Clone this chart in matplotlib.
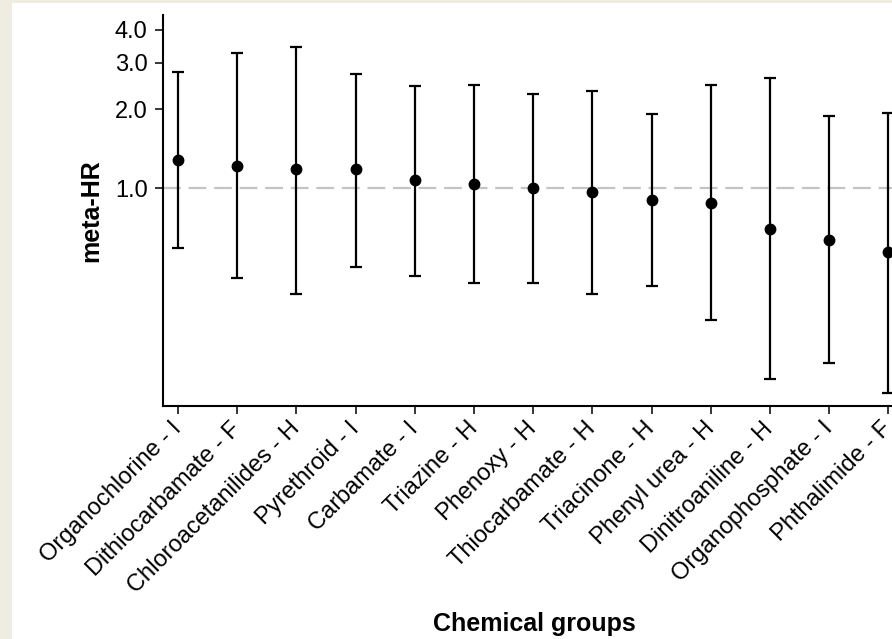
# Forest-style plot of meta-HR by chemical group (log scale)
import numpy as np
import matplotlib
matplotlib.use("Agg")
import matplotlib.pyplot as plt
from matplotlib.patches import Rectangle

plt.rcParams['font.family'] = ['Liberation Sans', 'DejaVu Sans']

groups = ["Organochlorine - I", "Dithiocarbamate - F", "Chloroacetanilides - H",
          "Pyrethroid - I", "Carbamate - I", "Triazine - H", "Phenoxy - H",
          "Thiocarbamate - H", "Triacinone - H", "Phenyl urea - H",
          "Dinitroaniline - H", "Organophosphate - I", "Phthalimide - F"]
meta_hr = [1.28, 1.22, 1.18, 1.18, 1.077, 1.043, 1.004, 0.972, 0.904, 0.883, 0.704, 0.636, 0.575]
ci_low = [0.596, 0.457, 0.396, 0.504, 0.466, 0.437, 0.437, 0.396, 0.426, 0.316, 0.188, 0.218, 0.167]
ci_high = [2.77, 3.26, 3.46, 2.73, 2.44, 2.48, 2.29, 2.35, 1.92, 2.47, 2.62, 1.89, 1.93]

y_ticks = [1.0, 2.0, 3.0, 4.0]
y_tick_labels = ["1.0", "2.0", "3.0", "4.0"]

fig = plt.figure(figsize=(8.92, 6.39), dpi=100)
fig.patch.set_facecolor('#efede2')
# white panel behind the chart
fig.add_artist(Rectangle((12 / 892, 0), 1 - 12 / 892, 636 / 639,
                         transform=fig.transFigure, facecolor='white',
                         edgecolor='none', zorder=-10))

ax = fig.add_axes([163 / 892, 1 - 406 / 639, (892 - 163) / 892, (406 - 15) / 639])
ax.set_facecolor('none')

x = np.arange(len(groups))
vals = np.array(meta_hr)
yerr = np.vstack([vals - np.array(ci_low), np.array(ci_high) - vals])

ax.axhline(1.0, color='#c4c4c4', linewidth=1.6, dashes=(8, 3.5), zorder=1)
ax.errorbar(x, vals, yerr=yerr, fmt='o', color='black', markersize=7.5,
            elinewidth=1.6, capsize=4, capthick=1.6, zorder=3, clip_on=False)

ax.set_yscale('log')
ax.set_ylim(0.149, 4.56)
ax.set_xlim(-0.253, 12.06)
ax.set_yticks(y_ticks)
ax.set_yticklabels(y_tick_labels)
ax.yaxis.set_minor_locator(matplotlib.ticker.NullLocator())
ax.set_xticks(x)
ax.set_xticklabels(groups, rotation=45, ha='right', va='center',
                   rotation_mode='anchor')

for side in ['top', 'right']:
    ax.spines[side].set_visible(False)
for side in ['left', 'bottom']:
    ax.spines[side].set_linewidth(1.5)
ax.tick_params(axis='both', length=6, width=1.1, pad=5)
ax.tick_params(axis='y', labelsize=17)
ax.tick_params(axis='x', labelsize=17, pad=8)

ax.set_ylabel("meta-HR", fontsize=18, fontweight='bold')
ax.yaxis.set_label_coords(-0.082, 0.5)
ax.set_xlabel("Chemical groups", fontsize=18, fontweight='bold')
ax.xaxis.set_label_coords((534 - 163) / 729, -(624 - 406) / 391)
ax.xaxis.label.set_va('center')

fig.savefig("out.png", dpi=100, facecolor=fig.get_facecolor())
